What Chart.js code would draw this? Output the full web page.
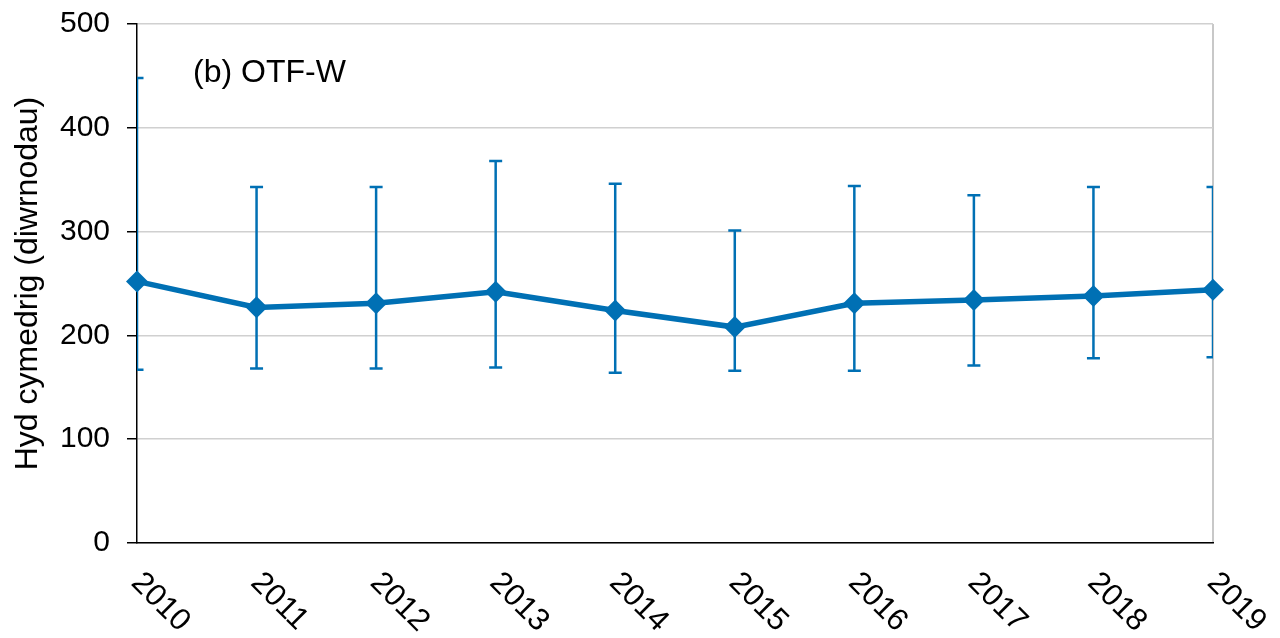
<!DOCTYPE html>
<html>
<head>
<meta charset="utf-8">
<script src="https://cdn.jsdelivr.net/npm/chart.js@4/dist/chart.umd.min.js"></script>
<style>
  html, body { margin: 0; padding: 0; background: #fff; }
  #wrap { width: 1280px; height: 638px; }
</style>
</head>
<body>
<div id="wrap"><canvas id="otfChart"></canvas></div>
<script>
// Mean duration per year with upper / lower error limits
const years = ["2010", "2011", "2012", "2013", "2014", "2015", "2016", "2017", "2018", "2019"];
const meanDays = [252, 227, 231, 242, 224, 208, 231, 234, 238, 244];
const upperDays = [448, 343, 343, 368, 346, 301, 344, 335, 343, 343];
const lowerDays = [167, 168, 168, 169, 164, 166, 166, 171, 178, 179];
const yTicks = [0, 100, 200, 300, 400, 500];

const blue = "#0070b4";
const font = "'Liberation Sans', Arial, sans-serif";

// error bars, clipped to the plot area so the end caps get cut at the edges
const errorBars = {
    id: "errorBars",
    beforeDatasetsDraw(chart) {
        const { ctx, chartArea, scales } = chart;
        ctx.save();
        ctx.beginPath();
        ctx.rect(chartArea.left, chartArea.top - 2, chartArea.right - chartArea.left, chartArea.bottom - chartArea.top + 4);
        ctx.clip();
        ctx.strokeStyle = blue;
        ctx.lineWidth = 2.5;
        years.forEach((y, i) => {
            const x = scales.x.getPixelForValue(i);
            const yHi = scales.y.getPixelForValue(upperDays[i]);
            const yLo = scales.y.getPixelForValue(lowerDays[i]);
            ctx.beginPath();
            ctx.moveTo(x, yHi);
            ctx.lineTo(x, yLo);
            ctx.moveTo(x - 6.5, yHi);
            ctx.lineTo(x + 6.5, yHi);
            ctx.moveTo(x - 6.5, yLo);
            ctx.lineTo(x + 6.5, yLo);
            ctx.stroke();
        });
        ctx.restore();
    }
};

// slanted year labels under the axis, plus the panel label
const extraText = {
    id: "extraText",
    afterDraw(chart) {
        const { ctx, chartArea, scales } = chart;
        ctx.save();
        ctx.fillStyle = "#000";
        ctx.font = "31px " + font;
        ctx.textAlign = "left";
        ctx.textBaseline = "middle";
        years.forEach((label, i) => {
            const x = scales.x.getPixelForTick(i);
            ctx.save();
            ctx.translate(x - 1, chartArea.bottom + 35);
            ctx.rotate(Math.PI / 4);
            ctx.fillText(label, 0, 0);
            ctx.restore();
        });
        ctx.font = "32px " + font;
        ctx.fillText("(b) OTF-W", chartArea.left + 56, chartArea.top + 49);
        ctx.restore();
    }
};

const ctx = document.getElementById("otfChart").getContext("2d");

new Chart(ctx, {
    type: "line",
    data: {
        labels: years,
        datasets: [
            {
                data: meanDays,
                borderColor: blue,
                backgroundColor: blue,
                borderWidth: 5.5,
                pointStyle: "rectRot",
                pointRadius: 11,
                pointBorderWidth: 0,
                pointBackgroundColor: blue,
                tension: 0,
                clip: false
            }
        ]
    },
    options: {
        responsive: true,
        maintainAspectRatio: false,
        animation: false,
        layout: { padding: { top: 24, right: 67, left: 0, bottom: 0 } },
        plugins: {
            legend: { display: false },
            tooltip: { enabled: false }
        },
        scales: {
            x: {
                offset: false,
                ticks: { display: false },
                grid: {
                    drawTicks: false,
                    color: (c) => (c.index === years.length - 1 ? "#c8c8c8" : "rgba(0,0,0,0)"),
                    lineWidth: 2
                },
                border: { color: "#000", width: 1.5 },
                afterFit: (scale) => { scale.height = 95; }
            },
            y: {
                min: 0,
                max: 500,
                afterBuildTicks: (scale) => { scale.ticks = yTicks.map((v) => ({ value: v })); },
                ticks: {
                    color: "#000",
                    padding: 17,
                    font: { family: font, size: 30 }
                },
                grid: {
                    color: "#d0d0d0",
                    lineWidth: 1.5,
                    tickColor: "#000",
                    tickLength: 10
                },
                border: { color: "#000", width: 1.5 },
                title: {
                    display: true,
                    text: "Hyd cymedrig (diwrnodau)",
                    color: "#000",
                    font: { family: font, size: 32 },
                    padding: { top: 9, bottom: 0 }
                },
                afterFit: (scale) => {
                    scale.width = 137;
                    // let the layout padding alone decide where the plot starts
                    scale.paddingTop = 0;
                    scale.paddingBottom = 0;
                }
            }
        }
    },
    plugins: [errorBars, extraText]
});
</script>
</body>
</html>
